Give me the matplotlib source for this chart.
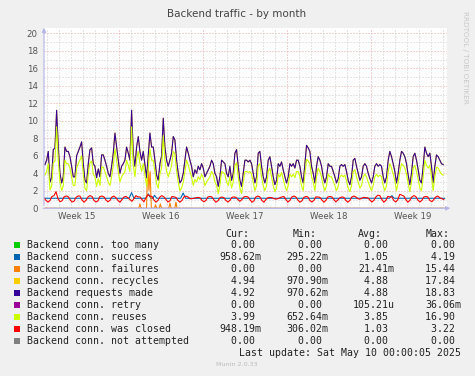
import numpy as np
import matplotlib
matplotlib.use("Agg")
import matplotlib.pyplot as plt
from matplotlib.patches import Rectangle

# ---- data (x in days from the left edge of the graph) ----
requests = [
    5.0, 5.5, 6.5, 3.0, 3.5, 6.7, 6.9, 11.2, 7.0, 4.0, 2.9, 3.6, 7.0, 6.5, 6.5, 5.9, 4.8, 3.6, 3.6, 6.0,
    6.5, 7.0, 7.6, 5.1, 3.2, 2.9, 5.1, 6.7, 6.9, 5.1, 4.8, 3.5, 4.5, 3.6, 6.1, 6.1, 5.5, 4.8, 4.0, 3.6,
    4.8, 6.3, 8.6, 7.0, 5.5, 4.0, 4.8, 5.1, 5.5, 7.0, 6.3, 5.5, 11.2, 6.3, 4.8, 7.0, 8.2, 6.5, 5.5, 6.5,
    5.0, 3.5, 6.0, 8.6, 7.0, 7.0, 5.5, 3.8, 3.2, 5.1, 6.0, 10.3, 7.0, 5.5, 4.8, 5.5, 6.3, 8.2, 7.8, 5.5,
    4.0, 2.9, 3.2, 4.0, 5.5, 7.0, 6.3, 5.5, 4.8, 3.6, 4.4, 4.0, 4.8, 4.4, 5.1, 4.6, 3.6, 4.0, 4.4, 4.8,
    5.5, 5.1, 4.0, 3.6, 2.5, 3.6, 5.5, 5.3, 5.1, 4.0, 3.6,
    4.8, 3.2, 4.0, 6.3, 6.7, 4.8, 3.2, 2.5, 4.0, 5.5, 5.5, 5.3, 5.5, 5.1, 4.0, 2.9, 3.6, 6.3, 6.5, 4.8,
    3.6, 2.9, 3.6, 5.5, 5.9, 4.8, 3.6, 2.7, 3.2, 5.1, 4.8, 5.3, 4.4, 3.6, 2.9, 3.6, 5.1, 4.8, 5.1, 4.6,
    5.5, 5.5, 4.8, 3.6, 2.9, 5.1, 7.2, 6.9, 6.5, 4.8, 4.0, 2.9, 4.8, 5.9, 5.5, 4.8, 3.6, 2.9, 3.6, 5.1,
    4.8, 4.8, 4.2, 3.6, 2.9, 3.4, 4.8, 5.0, 4.8, 5.0, 4.2, 3.2, 2.7, 3.6, 5.5, 5.7, 4.8, 4.0, 3.2, 3.6,
    4.8, 5.1, 4.8, 4.0, 3.4, 2.9, 3.6, 4.8, 5.1, 4.8, 5.0, 4.8, 3.6, 2.9, 3.6, 5.5, 6.5, 5.9, 5.1, 4.2,
    2.9, 4.0, 5.5, 6.5, 6.3, 5.9, 5.1, 3.8, 2.7, 4.0, 5.9, 6.3, 5.5, 4.4, 3.2, 2.9, 4.8, 7.0, 6.3, 5.9,
    6.3, 4.8, 2.9, 4.8, 6.1, 5.9, 5.5, 5.1, 5.0,
]
reuses = [
    3.8, 4.2, 5.1, 2.1, 2.5, 5.2, 5.4, 9.3, 5.5, 3.0, 2.0, 2.6, 5.5, 5.1, 5.1, 4.6, 3.6, 2.6, 2.6, 4.6,
    5.1, 5.5, 6.0, 3.9, 2.3, 2.0, 3.9, 5.2, 5.4, 3.9, 3.6, 2.5, 3.4, 2.6, 4.7, 4.7, 4.2, 3.6, 3.0, 2.6,
    3.6, 4.9, 6.8, 5.5, 4.2, 3.0, 3.6, 3.9, 4.2, 5.5, 4.9, 4.2, 9.3, 4.9, 3.6, 5.5, 6.5, 5.1, 4.2, 5.1,
    3.8, 2.5, 4.6, 6.8, 5.5, 5.5, 4.2, 2.8, 2.3, 3.9, 4.6, 8.3, 5.5, 4.2, 3.6, 4.2, 4.9, 6.5, 6.2, 4.2,
    3.0, 2.0, 2.3, 3.0, 4.2, 5.5, 4.9, 4.2, 3.6, 2.6, 3.3, 3.0, 3.6, 3.3, 3.9, 3.5, 2.6, 3.0, 3.3, 3.6,
    4.2, 3.9, 3.0, 2.6, 1.7, 2.6, 4.2, 4.1, 3.9, 3.0, 2.6,
    3.6, 2.3, 3.0, 4.9, 5.2, 3.6, 2.3, 1.7, 3.0, 4.2, 4.2, 4.1, 4.2, 3.9, 3.0, 2.0, 2.6, 4.9, 5.1, 3.6,
    2.6, 2.0, 2.6, 4.2, 4.6, 3.6, 2.6, 1.9, 2.3, 3.9, 3.6, 4.1, 3.3, 2.6, 2.0, 2.6, 3.9, 3.6, 3.9, 3.5,
    4.2, 4.2, 3.6, 2.6, 2.0, 3.9, 5.6, 5.4, 5.1, 3.6, 3.0, 2.0, 3.6, 4.6, 4.2, 3.6, 2.6, 2.0, 2.6, 3.9,
    3.6, 3.6, 3.1, 2.6, 2.0, 2.5, 3.6, 3.8, 3.6, 3.8, 3.1, 2.3, 1.9, 2.6, 4.2, 4.4, 3.6, 3.0, 2.3, 2.6,
    3.6, 3.9, 3.6, 3.0, 2.5, 2.0, 2.6, 3.6, 3.9, 3.6, 3.8, 3.6, 2.6, 2.0, 2.6, 4.2, 5.1, 4.6, 3.9, 3.1,
    2.0, 3.0, 4.2, 5.1, 4.9, 4.6, 3.9, 2.8, 1.9, 3.0, 4.6, 4.9, 4.2, 3.3, 2.3, 2.0, 3.6, 5.5, 4.9, 4.6,
    4.9, 3.6, 2.0, 3.6, 4.7, 4.6, 4.2, 3.9, 3.8,
]
# recycles sits right under "requests made" (same values at this resolution)
recycles = list(requests)

closed_days = [
    [1.2, 0.9, 0.7, 0.9, 1.35, 1.45], [1.9, 1.1, 0.75, 0.85, 1.3, 1.4], [1.35, 1.0, 0.72, 0.8, 1.25, 1.4],
    [1.4, 0.95, 0.7, 0.9, 1.3, 1.45], [1.35, 0.9, 0.72, 0.85, 1.35, 1.4], [1.3, 0.95, 0.75, 0.9, 1.3, 1.4],
    [1.2, 0.9, 0.7, 1.0, 1.3, 1.35], [1.2, 1.0, 0.8, 1.1, 1.45, 1.3], [1.3, 1.0, 0.75, 1.2, 1.55, 1.4],
    [1.35, 0.95, 0.7, 0.9, 1.3, 1.45], [1.3, 1.0, 0.72, 0.85, 1.35, 1.3], [1.25, 0.9, 0.7, 0.9, 1.3, 1.4],
    [1.3, 1.1, 1.1, 1.15, 1.2, 1.25], [1.2, 0.9, 0.75, 0.9, 1.3, 1.35], [1.3, 0.95, 0.7, 0.85, 1.2, 1.3],
    [1.2, 0.9, 0.72, 0.9, 1.25, 1.3], [1.25, 1.0, 0.8, 1.0, 1.3, 1.35], [1.3, 1.0, 0.7, 0.85, 1.3, 1.4],
    [1.3, 0.9, 0.7, 1.0, 1.2, 1.25], [1.2, 1.1, 1.05, 1.1, 1.2, 1.3], [1.35, 1.0, 0.72, 0.9, 1.3, 1.4],
    [1.3, 0.95, 0.7, 0.85, 1.25, 1.35], [1.3, 0.9, 0.72, 0.9, 1.3, 1.3], [1.25, 0.95, 0.7, 0.9, 1.3, 1.35],
    [1.3, 1.0, 0.75, 0.95, 1.2, 1.3], [1.25, 0.9, 0.7, 0.9, 1.3, 1.4], [1.3, 1.1, 1.05, 1.15, 1.25, 1.2],
    [1.2, 0.95, 0.72, 0.9, 1.3, 1.5], [1.45, 1.0, 0.7, 0.9, 1.35, 1.3], [1.3, 0.9, 0.72, 1.0, 1.6, 1.5],
    [1.4, 1.0, 0.7, 0.9, 1.3, 1.45], [1.35, 0.95, 0.72, 0.9, 1.3, 1.35], [1.3, 0.9, 0.75, 1.0, 1.3, 1.4],
    [1.2, 1.1, 1.0],
]
closed = [v for day in closed_days for v in day]

success_t = [0.0, 7.1, 7.3, 7.5, 8.5, 8.7, 8.9, 9.1, 9.2, 9.4, 11.4, 11.6, 11.8, 28.8, 29.0, 29.2, 33.4]
success_v = [1.15, 1.15, 1.8, 1.15, 1.15, 1.65, 1.15, 1.15, 1.5, 1.15, 1.15, 1.75, 1.15, 1.15, 1.45, 1.15, 1.15]

failures_t = [0.0, 7.9, 8.0, 8.1, 8.55, 8.65, 8.75, 8.85, 8.95, 9.2, 9.3, 9.4, 9.6, 9.7, 9.8,
              10.4, 10.5, 10.6, 10.9, 11.0, 11.1, 33.4]
failures_v = [0.0, 0.0, 0.5, 0.0, 0.0, 5.5, 2.0, 4.2, 0.0, 0.0, 0.4, 0.0, 0.0, 0.5, 0.0,
              0.0, 0.6, 0.0, 0.0, 0.7, 0.0, 0.0]

week_labels = ["Week 15", "Week 16", "Week 17", "Week 18", "Week 19"]
week_starts = [6.27, 13.27, 20.27, 27.27]

legend_names = ["Backend conn. too many", "Backend conn. success", "Backend conn. failures",
                "Backend conn. recycles", "Backend requests made", "Backend conn. retry",
                "Backend conn. reuses", "Backend conn. was closed", "Backend conn. not attempted"]
legend_colors = ["#00CC00", "#0066B3", "#FF8000", "#FFCC00", "#330099", "#990099",
                 "#CCFF00", "#FF0000", "#808080"]
cur_vals = ["0.00 ", "958.62m", "0.00 ", "4.94 ", "4.92 ", "0.00 ", "3.99 ", "948.19m", "0.00 "]
min_vals = ["0.00 ", "295.22m", "0.00 ", "970.90m", "970.62m", "0.00 ", "652.64m", "306.02m", "0.00 "]
avg_vals = ["0.00 ", "1.05 ", "21.41m", "4.88 ", "4.88 ", "105.21u", "3.85 ", "1.03 ", "0.00 "]
max_vals = ["0.00 ", "4.19 ", "15.44 ", "17.84 ", "18.83 ", "36.06m", "16.90 ", "3.22 ", "0.00 "]

t_fast = np.linspace(0.08, 33.28, len(requests))
t_slow = np.arange(len(closed)) / 6.0

W, H = 475, 376
def fx(x):
    return x / W
def fy(y):
    return 1 - y / H

fig = plt.figure(figsize=(4.75, 3.76), dpi=100, facecolor="#F0F0F0")
# y=0 at 208.3px, 8.75px per unit, 12px per day, x=0 at 44px
ax = fig.add_axes([fx(44), fy(208.3), 403 / W, 20.55 * 8.75 / H])
ax.set_facecolor("white")
ax.set_xlim(0, 33.6)
ax.set_ylim(0, 20.55)
for s in ax.spines.values():
    s.set_visible(False)

dots = (0, (1, 2))
for v in range(1, 21):
    if v % 2 == 0:
        ax.axhline(v, color="#E8A8A8", lw=0.72, ls=dots, zorder=1)
    else:
        ax.axhline(v, color="#CFCFCF", lw=0.72, ls=dots, zorder=1)
for d in np.arange(0.27, 33.5, 1.0):
    if any(abs(d - w) < 0.01 for w in week_starts):
        ax.axvline(d, color="#E8A8A8", lw=0.72, ls=dots, zorder=1)
    else:
        ax.axvline(d, color="#CFCFCF", lw=0.72, ls=dots, zorder=1)

zeros = [0.0] * len(t_fast)
lw = 0.8
ax.plot(t_fast, zeros, color=legend_colors[0], lw=lw, zorder=3)
ax.plot(success_t, success_v, color=legend_colors[1], lw=lw, zorder=3)
ax.plot(failures_t, failures_v, color=legend_colors[2], lw=lw, zorder=3)
ax.plot(t_fast, recycles, color=legend_colors[3], lw=lw, zorder=3)
ax.plot(t_fast, requests, color=legend_colors[4], lw=lw, zorder=3)
ax.plot(t_fast, zeros, color=legend_colors[5], lw=lw, zorder=3)
ax.plot(t_fast, reuses, color=legend_colors[6], lw=lw, zorder=3)
ax.plot(t_slow, closed, color=legend_colors[7], lw=lw, zorder=3)
ax.plot(t_fast, zeros, color=legend_colors[8], lw=lw, zorder=3)

# axes with arrows
axis_col = "#B4B4E6"
ax.annotate("", xy=(0, 20.95), xytext=(0, 0), xycoords="data",
            arrowprops=dict(arrowstyle="-|>", color=axis_col, lw=0.8, mutation_scale=6),
            annotation_clip=False, zorder=5)
ax.annotate("", xy=(34.1, 0), xytext=(-0.3, 0), xycoords="data",
            arrowprops=dict(arrowstyle="-|>", color=axis_col, lw=0.8, mutation_scale=6),
            annotation_clip=False, zorder=5)

ax.set_yticks(range(0, 21, 2))
ax.set_yticklabels([str(v) for v in range(0, 21, 2)], fontsize=6.2, color="#555555")
week_mid = [w - 3.5 for w in week_starts] + [week_starts[-1] + 3.5]
ax.set_xticks(week_mid)
ax.set_xticklabels(week_labels, fontsize=6.2, color="#555555")
ax.tick_params(axis="y", length=0, pad=4.5)
ax.tick_params(axis="x", length=0, pad=3)

fig.text(fx(237), fy(14), "Backend traffic - by month", ha="center", va="center",
         fontsize=7.5, color="#444444")
fig.text(fx(465), fy(57), "RRDTOOL / TOBI OETIKER", rotation=270, ha="center", va="center",
         fontsize=5.2, color="#C8C8C8")

mono = "DejaVu Sans Mono"
fs = 7.1
tc = "#222222"
for label, x in zip(["Cur:", "Min:", "Avg:", "Max:"], [225.7, 292.3, 358.3, 426]):
    fig.text(fx(x), fy(234), label, ha="left", va="center", family=mono, fontsize=fs, color=tc)
for i, name in enumerate(legend_names):
    y = 245.3 + 12 * i
    fig.patches.append(Rectangle((fx(14), fy(y + 3)), 6 / W, 6 / H, transform=fig.transFigure,
                                 facecolor=legend_colors[i], edgecolor="none"))
    fig.text(fx(26.7), fy(y), name, ha="left", va="center", family=mono, fontsize=fs, color=tc)
    for col, xr in zip([cur_vals, min_vals, avg_vals, max_vals], [261, 328.3, 394.3, 461]):
        fig.text(fx(xr), fy(y), col[i], ha="right", va="center", family=mono, fontsize=fs, color=tc)
fig.text(fx(461), fy(353.3), "Last update: Sat May 10 00:00:05 2025", ha="right", va="center",
         family=mono, fontsize=fs, color=tc)
fig.text(fx(237), fy(364), "Munin 2.0.33", ha="center", va="center", fontsize=4.6, color="#BBBBBB")

fig.savefig("out.png", dpi=100, facecolor=fig.get_facecolor())
